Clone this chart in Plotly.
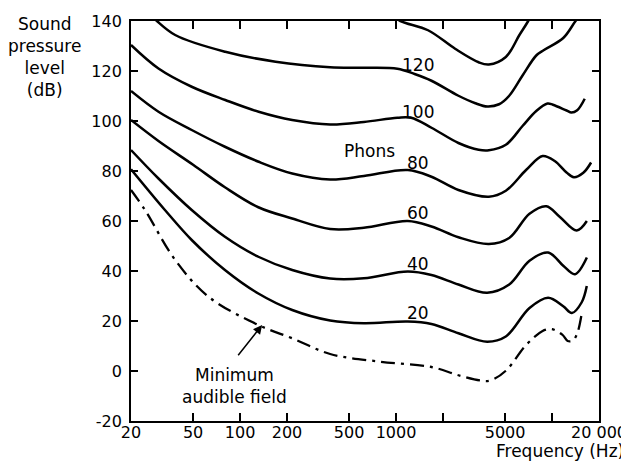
import numpy as np
import plotly.graph_objects as go

# ---- data ----
freq_140 = [900, 1066, 1604, 2391, 3385, 3935, 5056, 6164, 6990, 7600]
spl_140 = [143, 140, 136.3, 128.9, 123.5, 122.6, 125.6, 134.3, 139.7, 144]

freq_120 = [20, 27.2, 38.4, 80.4, 169, 378, 622, 1020, 1315, 1687, 2512, 3226, 3842, 4575, 5313, 6470, 7920, 8880, 11800, 14230, 16000]
spl_120 = [148, 141.7, 134.4, 127.7, 123.7, 121.5, 121.3, 120.9, 118.8, 116.1, 110.1, 107.1, 105.8, 106.7, 110.1, 118.2, 126.2, 128.4, 133.2, 140.2, 144]

freq_100 = [20, 30, 49, 80.4, 131.6, 216, 378, 622, 1020, 1250, 1687, 2512, 3385, 3935, 5056, 6470, 7920, 9350, 10130, 12390, 13300, 14500, 16200]
spl_100 = [130.4, 121, 113.7, 108.4, 103.7, 100.4, 98.6, 99.6, 101.3, 101.3, 97.3, 91.2, 88.5, 88.3, 90.5, 98, 104, 107, 106.5, 104.2, 103.4, 104.3, 108.9]

freq_80 = [20, 30, 49, 80, 131.6, 216, 378, 622, 1190, 1687, 2512, 3935, 5056, 6815, 8700, 10400, 12390, 13800, 15870, 17800]
spl_80 = [112, 103.7, 96.4, 89.7, 83.7, 79, 76.6, 78, 80.4, 77.7, 72.4, 69.7, 72.1, 80.4, 86, 84, 79.4, 77.5, 79.3, 83.4]

freq_60 = [20, 30, 50, 80, 131, 216, 378, 622, 1190, 1687, 2512, 3935, 5313, 7170, 9190, 11230, 14390, 16720]
spl_60 = [100.4, 92, 82.5, 73.5, 65.5, 61, 56.8, 57.3, 60, 57.8, 53.5, 50.8, 53.2, 62.9, 65.9, 61.6, 56.2, 60]

freq_40 = [20, 30, 49, 80, 131, 216, 378, 622, 1190, 1687, 2512, 3840, 5313, 7170, 9440, 11800, 14020, 16720]
spl_40 = [88.4, 77, 64.4, 53.7, 45.7, 40.4, 37, 37.1, 39.8, 38.4, 34.6, 31.3, 34.6, 44.1, 47.4, 42.1, 38.7, 45.4]

freq_20 = [20, 33, 49, 80, 131, 216, 378, 622, 1190, 1687, 2512, 3840, 5056, 7170, 9440, 11800, 13400, 15500, 16700]
spl_20 = [80.7, 64.4, 52.4, 40.4, 31, 24.4, 20.2, 19.1, 19.8, 18.8, 15.1, 11.7, 13.8, 25.2, 29.3, 25.9, 23.2, 27.5, 34]

freq_maf = [20, 24.6, 38.4, 62.8, 131, 216, 378, 798, 1687, 2512, 3470, 4020, 5056, 6815, 8700, 9800, 10400, 11700, 12600, 13600, 14500, 15400]
spl_maf = [72.4, 64.4, 44.4, 29.7, 18.4, 13.1, 6.8, 3.7, 1.6, -1.7, -3.8, -3.8, 0.1, 10.4, 16, 16.8, 16.4, 14.4, 12, 12.2, 15, 22]

phon_labels = ["120", "100", "80", "60", "40", "20"]
phon_label_spl = [122.6, 103.6, 83.2, 63.4, 43.0, 23.2]

y_ticks = [-20, 0, 20, 40, 60, 80, 100, 120, 140]
y_ticktext = ["-20", "0", "20", "40", "60", "80", "100", "120", "140"]
x_ticks = [20, 50, 100, 200, 500, 1000, 2000, 5000, 10000, 20000]
x_ticktext = ["20", "50", "100", "200", "500", "1000", "", "5000", "", "20 000"]

FONT = "DejaVu Sans"
fig = go.Figure()

solid = [(freq_140, spl_140), (freq_120, spl_120), (freq_100, spl_100), (freq_80, spl_80),
         (freq_60, spl_60), (freq_40, spl_40), (freq_20, spl_20)]
for fx, sy in solid:
    fig.add_trace(go.Scatter(x=fx, y=sy, mode="lines",
                             line=dict(color="black", width=2.5, shape="spline", smoothing=1.0),
                             showlegend=False, hoverinfo="skip"))
fig.add_trace(go.Scatter(x=freq_maf, y=spl_maf, mode="lines",
                         line=dict(color="black", width=2.3, shape="spline", smoothing=1.0,
                                   dash="14px,6px,3px,6px"),
                         showlegend=False, hoverinfo="skip"))

label_x = np.log10(1391)
for t, yv in zip(phon_labels, phon_label_spl):
    fig.add_annotation(x=label_x, y=yv, text=t, showarrow=False,
                       xanchor="center", yanchor="middle",
                       font=dict(family=FONT, size=17, color="black"))
fig.add_annotation(x=np.log10(673), y=87.9, text="Phons", showarrow=False,
                   xanchor="center", yanchor="middle",
                   font=dict(family=FONT, size=17, color="black"))

# arrow to minimum audible field
fig.add_annotation(x=np.log10(138.6), y=18.4, ax=np.log10(95.6), ay=5.7,
                   axref="x", ayref="y", xref="x", yref="y", text="",
                   showarrow=True, arrowhead=2, arrowsize=1.2, arrowwidth=1.5,
                   arrowcolor="black", standoff=0)
fig.add_annotation(x=np.log10(92), y=-6, text="Minimum<br>audible field", showarrow=False,
                   xanchor="center", yanchor="middle",
                   font=dict(family=FONT, size=17, color="black"))

fig.add_annotation(xref="paper", yref="paper", x=-0.1838, y=0.909,
                   xanchor="center", yanchor="middle",
                   text="Sound<br>pressure<br>level<br>(dB)", showarrow=False,
                   font=dict(family=FONT, size=17, color="black"))
fig.add_annotation(xref="paper", yref="paper", x=1.058, y=-0.0745,
                   xanchor="right", yanchor="middle",
                   text="Frequency (Hz)", showarrow=False,
                   font=dict(family=FONT, size=17, color="black"))

fig.update_xaxes(type="log", range=[np.log10(20), np.log10(20000)],
                 tickvals=x_ticks, ticktext=x_ticktext, automargin=False,
                 ticks="inside", ticklen=8, tickwidth=1.5, tickcolor="black",
                 showline=True, linecolor="black", linewidth=1.8, mirror="ticks",
                 showgrid=False, zeroline=False, ticklabelstandoff=-4,
                 tickfont=dict(family=FONT, size=16, color="black"))
fig.update_yaxes(range=[-20, 140], tickvals=y_ticks, ticktext=y_ticktext, automargin=False,
                 ticks="inside", ticklen=7, tickwidth=1.5, tickcolor="black",
                 showline=True, linecolor="black", linewidth=1.8, mirror="ticks",
                 showgrid=False, zeroline=False, ticklabelstandoff=4,
                 tickfont=dict(family=FONT, size=16, color="black"))

# the page body adds an 8 px offset, so the figure is sized to fit the 629x465 window
fig.update_layout(width=621, height=457,
                  margin=dict(l=123, r=30, t=13, b=44, autoexpand=False),
                  paper_bgcolor="white", plot_bgcolor="white",
                  font=dict(family=FONT, size=17, color="black"))

fig.write_html("out.html")
